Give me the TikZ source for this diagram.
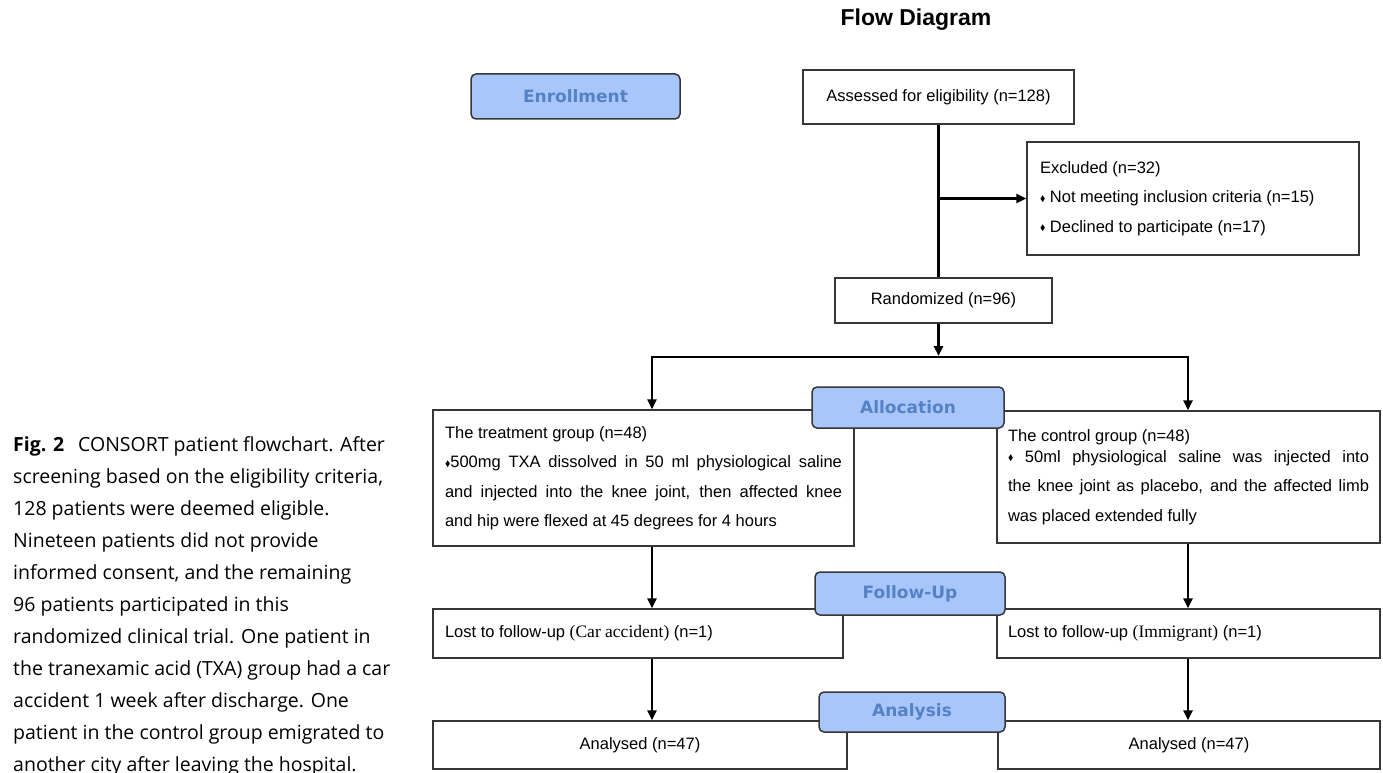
\documentclass[tikz,border=0pt]{standalone}
\usepackage{amssymb}
\usepackage{fontspec}
\setmainfont{Liberation Sans}
\newfontfamily\capfont{Open Sans}
\newfontfamily\romfont{Liberation Serif}
\newfontfamily\stagefont{DejaVu Sans}
\usepackage{tikz}
\usetikzlibrary{arrows.meta}

\definecolor{stagefill}{RGB}{169,198,250}
\definecolor{stagetext}{RGB}{84,130,196}
\definecolor{boxline}{RGB}{55,55,55}
\newcommand{\bul}{\raisebox{1.5pt}{\footnotesize$\blacklozenge$}}
\newcommand{\jline}[2]{\makebox[#1][s]{#2}}

\begin{document}
\begin{tikzpicture}[x=1pt, y=-1pt,
  block/.style={rectangle, draw=boxline, line width=1.2pt, fill=white, inner sep=0pt,
                font=\fontsize{16.5}{19}\selectfont},
  stage/.style={rectangle, draw=boxline, line width=1.5pt, rounded corners=5pt,
                fill=stagefill, text=stagetext, inner sep=0pt,
                font=\stagefont\bfseries\fontsize{17}{20}\selectfont},
  arrow/.style={-{Triangle[length=10pt,width=9pt]}, line width=2.5pt},
  split/.style={{Triangle[length=10pt,width=9pt]}-{Triangle[length=10pt,width=9pt]}, line width=2.5pt},
  line/.style={line width=2.5pt},
]
  \useasboundingbox (0,0) rectangle (1383,773);

  % Caption and title
  \node[anchor=base west, inner sep=0pt, font=\capfont\fontsize{19.5}{32}\selectfont] (caption) at (13,451)
    {\parbox[t]{410pt}{\raggedright\textbf{Fig. 2}\hspace{0.45em} CONSORT patient flowchart. After\\
      screening based on the eligibility criteria,\\
      128 patients were deemed eligible.\\
      Nineteen patients did not provide\\
      informed consent, and the remaining\\
      96 patients participated in this\\
      randomized clinical trial. One patient in\\
      the tranexamic acid (TXA) group had a car\\
      accident 1 week after discharge. One\\
      patient in the control group emigrated to\\
      another city after leaving the hospital.}};
  \node[font=\bfseries\fontsize{23}{26}\selectfont] (title) at (916,20) {Flow Diagram};

  % Nodes
  \node[block, minimum width=271pt, minimum height=54pt] (assess) at (938.5,97)
    {Assessed for eligibility (n=128)};
  \node[block, minimum width=332pt, minimum height=113pt] (excl) at (1193,198.5)
    {\raisebox{6pt}{\parbox{306pt}{\fontsize{16.5}{29.5}\selectfont\raggedright
      Excluded (n=32)\\
      \bul{} Not meeting inclusion criteria (n=15)\\
      \bul{} Declined to participate (n=17)}}};
  \node[block, minimum width=217pt, minimum height=45pt] (rand) at (943.5,300.5)
    {Randomized (n=96)};
  \node[block, minimum width=421pt, minimum height=136pt] (treat) at (643.5,478)
    {\parbox{397pt}{\fontsize{16.5}{29.5}\selectfont
      The treatment group (n=48)\\
      \jline{397pt}{\bul500mg TXA dissolved in 50 ml physiological saline}\\
      \jline{397pt}{and injected into the knee joint, then affected knee}\\
      and hip were flexed at 45 degrees for 4 hours}};
  \node[block, minimum width=383pt, minimum height=132pt] (ctrl) at (1188.5,477)
    {\parbox{361pt}{\fontsize{16.5}{29.5}\selectfont
      The control group (n=48)\\[-8.5pt]
      \jline{361pt}{\bul{} 50ml physiological saline was injected into}\\
      \jline{361pt}{the knee joint as placebo, and the affected limb}\\
      was placed extended fully}};
  \node[block, minimum width=410pt, minimum height=49pt] (lostT) at (638,633.5)
    {\parbox{386pt}{Lost to follow-up {\romfont\fontsize{17.5}{19}\selectfont(Car accident)} (n=1)}};
  \node[block, minimum width=383pt, minimum height=49pt] (lostC) at (1188.5,633.5)
    {\parbox{361pt}{Lost to follow-up {\romfont\fontsize{17.5}{19}\selectfont(Immigrant)} (n=1)}};
  \node[block, minimum width=414pt, minimum height=48pt] (anaT) at (640,745)
    {Analysed (n=47)};
  \node[block, minimum width=382pt, minimum height=48pt] (anaC) at (1189,745)
    {Analysed (n=47)};

  % Stage labels
  \node[stage, minimum width=209pt, minimum height=45pt] (enroll) at (575.5,96.5) {Enrollment};
  \node[stage, minimum width=192pt, minimum height=41pt] (alloc) at (908,407.5) {Allocation};
  \node[stage, minimum width=190pt, minimum height=43pt] (follow) at (910,593.5) {Follow-Up};
  \node[stage, minimum width=186pt, minimum height=40pt] (analysis) at (912,712) {Analysis};

  % Connectors
  \coordinate (fork) at (938.5,357);
  \coordinate (colT) at (652,357);
  \coordinate (colC) at (1188,357);
  \draw[line] (assess.south) -- (assess.south |- rand.north);
  \draw[arrow] (assess.south |- excl.west) -- (excl.west);
  \draw[arrow, shorten >=1pt] (fork |- rand.south) -- (fork);
  \draw[split] (colT |- treat.north) -- (colT) -- (colC) -- (colC |- ctrl.north);
  \draw[arrow] (colT |- treat.south) -- (colT |- lostT.north);
  \draw[arrow] (colT |- lostT.south) -- (colT |- anaT.north);
  \draw[arrow] (colC |- ctrl.south) -- (colC |- lostC.north);
  \draw[arrow] (colC |- lostC.south) -- (colC |- anaC.north);
\end{tikzpicture}
\end{document}
